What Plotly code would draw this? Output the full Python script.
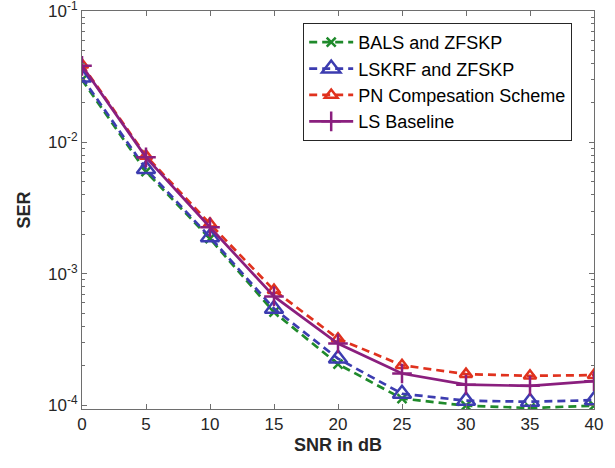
import plotly.graph_objects as go

snr = [0, 5, 10, 15, 20, 25, 30, 35, 40]
bals = [0.0300, 0.0060, 0.00185, 0.00051, 0.000205, 0.000112, 0.0000990, 0.0000950, 0.0000990]
lskrf = [0.0312, 0.00628, 0.00190, 0.000542, 0.000226, 0.000122, 0.000108, 0.000106, 0.000109]
pn = [0.0390, 0.0079, 0.00240, 0.00075, 0.000320, 0.000201, 0.000172, 0.000167, 0.000169]
ls = [0.0383, 0.0077, 0.00226, 0.000672, 0.000294, 0.000174, 0.000143, 0.000140, 0.000152]

names = ["BALS and ZFSKP", "LSKRF and ZFSKP", "PN Compesation Scheme", "LS Baseline"]
xtickvals = [0, 5, 10, 15, 20, 25, 30, 35, 40]
ytickvals = [1e-4, 1e-3, 1e-2, 1e-1]
yticktext = ["10<sup>-4</sup>", "10<sup>-3</sup>", "10<sup>-2</sup>", "10<sup>-1</sup>"]
yminor = [m * d for d in [1e-5, 1e-4, 1e-3, 1e-2] for m in range(2, 10)]

green = "#1f8a2b"
blue = "#3c3cb0"
red = "#e0321e"
purple = "#8a1f7e"

fig = go.Figure()
fig.add_trace(go.Scatter(x=snr, y=bals, name=names[0], mode="lines+markers",
                         line=dict(color=green, width=2.7, dash="8px,5px"),
                         marker=dict(symbol="x-thin", size=9, line=dict(color=green, width=2.5))))
fig.add_trace(go.Scatter(x=snr, y=lskrf, name=names[1], mode="lines+markers",
                         line=dict(color=blue, width=2.7, dash="8px,5px"),
                         marker=dict(symbol="triangle-up-open", size=16, color=blue, line=dict(width=2.5))))
fig.add_trace(go.Scatter(x=snr, y=pn, name=names[2], mode="lines+markers",
                         line=dict(color=red, width=2.7, dash="8px,5px"),
                         marker=dict(symbol="triangle-up-open", size=11, color=red, line=dict(width=2.5))))
fig.add_trace(go.Scatter(x=snr, y=ls, name=names[3], mode="lines+markers",
                         line=dict(color=purple, width=2.7),
                         marker=dict(symbol="cross-thin", size=14, line=dict(color=purple, width=2.5))))

axcol = "#6e6e6e"
txtcol = "#262626"
fig.update_layout(
    width=615, height=468,
    margin=dict(l=82, r=21, t=11, b=59, autoexpand=False),
    paper_bgcolor="white", plot_bgcolor="white",
    font=dict(family="Liberation Sans, Arial, sans-serif", size=17, color=txtcol),
    showlegend=True,
    legend=dict(x=0.432, y=0.97, xanchor="left", yanchor="top",
                bgcolor="white", bordercolor="#262626", borderwidth=1,
                font=dict(size=18, color="black"), tracegroupgap=0,
                itemwidth=44),
    xaxis=dict(range=[0, 40], tickvals=xtickvals,
               ticks="inside", ticklen=5, tickcolor=axcol, showline=True, linecolor=axcol,
               linewidth=1, mirror="allticks", showgrid=False, zeroline=False,
               tickfont=dict(size=17, color=txtcol), ticklabeloverflow="allow",
               title=dict(text="<b>SNR in dB</b>", standoff=4, font=dict(size=18, color=txtcol))),
    yaxis=dict(type="log", range=[-4.03, -0.999], tickvals=ytickvals, ticktext=yticktext,
               ticks="inside", ticklen=5, tickcolor=axcol, showline=True, linecolor=axcol,
               linewidth=1, mirror="allticks", showgrid=False, zeroline=False,
               tickfont=dict(size=17, color=txtcol), ticklabeloverflow="allow",
               minor=dict(tickvals=yminor, ticks="inside", ticklen=3, tickcolor=axcol, showgrid=False),
               title=dict(text="<b>SER</b>", standoff=12, font=dict(size=18, color=txtcol))),
)
fig.write_html("out.html", config={"displayModeBar": False},
               post_script="document.body.style.margin='0px';")
